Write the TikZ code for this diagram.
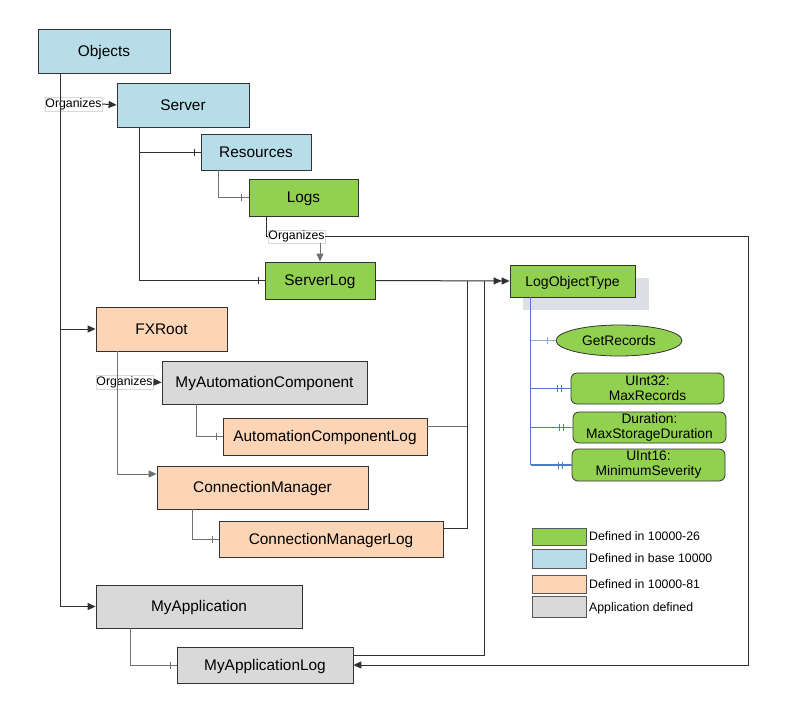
\documentclass[tikz,border=0pt]{standalone}
\usepackage{fontspec}
\setmainfont{Liberation Sans}
\usetikzlibrary{arrows.meta,decorations.markings,shapes.geometric}

\definecolor{cblue}{HTML}{B7DDE8}
\definecolor{cgreen}{HTML}{92D050}
\definecolor{cpeach}{HTML}{FBD5B5}
\definecolor{cgray}{HTML}{D9D9D9}
\definecolor{cline}{HTML}{303030}
\definecolor{cgline}{HTML}{707070}
\definecolor{cblueline}{HTML}{4F7CC4}
\definecolor{clightblue}{HTML}{94AACB}
\definecolor{cshadow}{HTML}{DCDFE6}

\def\tkc{cline}
\begin{document}
\begin{tikzpicture}[x=1pt,y=-1pt,
  box/.style={draw=black!80, line width=0.8pt, inner sep=0pt, text height=11pt, text depth=0.5pt,
     font=\fontsize{15.4}{17}\selectfont},
  child/.style={draw=black!80, line width=0.8pt, inner sep=0pt, fill=cgreen, rounded corners=6pt,
     align=center, font=\fontsize{13.8}{15}\selectfont},
  lbl/.style={draw=black!15, fill=white, inner sep=0.5pt, text height=9pt, text depth=2.5pt,
     font=\fontsize{12.3}{13}\selectfont},
  legbox/.style={draw=black!65, line width=0.8pt, minimum width=54pt},
  legtxt/.style={anchor=west, inner sep=0pt, font=\fontsize{12.3}{13}\selectfont},
  tc/.code={\def\tkc{#1}},
  conn/.style={draw=cline, line width=1pt, tc=cline},
  gconn/.style={draw=cgline, line width=1pt, tc=cgline},
  arr/.style={-{Triangle[length=8pt,width=7pt]}},
  dblarr/.style={-{Triangle[length=8pt,width=7pt]Triangle[length=8pt,width=7pt]}},
  tick/.style={postaction={decorate,decoration={markings,
     mark=at position -#1 with {\draw[draw=\tkc, line width=0.9pt] (0pt,-3.5pt)--(0pt,3.5pt);}}}},
  tick/.default=6pt,
  dtick/.style={postaction={decorate,decoration={markings,
     mark=at position -9pt with {\draw[draw=\tkc, line width=0.9pt] (0pt,-3.5pt)--(0pt,3.5pt);},
     mark=at position -13pt with {\draw[draw=\tkc, line width=0.9pt] (0pt,-3.5pt)--(0pt,3.5pt);}}}},
]
\useasboundingbox[fill=white] (0,0) rectangle (793,713);

% ---------- nodes ----------
\node[box, fill=cblue, minimum width=132pt, minimum height=44pt] (objects) at (104,51) {Objects};
\node[box, fill=cblue, minimum width=132pt, minimum height=44pt] (server) at (183,105) {Server};
\node[box, fill=cblue, minimum width=110pt, minimum height=36pt] (resources) at (256,152) {Resources};
\node[box, fill=cgreen, minimum width=109pt, minimum height=37pt] (logs) at (303.5,197.5) {Logs};
\node[box, fill=cgreen, minimum width=110pt, minimum height=37pt] (serverlog) at (320,280.5) {ServerLog};

\fill[cshadow] (523,278) rectangle (649,310);
\node[box, fill=cgreen, minimum width=125pt, minimum height=32pt,
      font=\fontsize{14}{16}\selectfont] (lot) at (572.5,281) {LogObjectType};

\node[box, fill=cpeach, minimum width=131pt, minimum height=44pt] (fxroot) at (161.5,329) {FXRoot};
\node[box, fill=cgray, minimum width=205pt, minimum height=43pt] (mac) at (264.5,382.5) {MyAutomationComponent};
\node[box, fill=cpeach, minimum width=204pt, minimum height=37pt] (aclog) at (325,436.5) {AutomationComponentLog};
\node[box, fill=cpeach, minimum width=211pt, minimum height=43pt] (cm) at (262.5,487.5) {ConnectionManager};
\node[box, fill=cpeach, minimum width=224pt, minimum height=36pt] (cmlog) at (331,539) {ConnectionManagerLog};
\node[box, fill=cgray, minimum width=206pt, minimum height=43pt] (myapp) at (199,606.5) {MyApplication};
\node[box, fill=cgray, minimum width=176pt, minimum height=36pt] (myapplog) at (265,665) {MyApplicationLog};

\node[ellipse, draw=black!80, line width=0.8pt, fill=cgreen, inner sep=0pt, minimum width=126pt,
      minimum height=31pt, text height=10pt, text depth=0.5pt,
      font=\fontsize{13.8}{15}\selectfont] (getrec) at (619,340.5) {GetRecords};
\node[child, minimum width=153pt, minimum height=31pt] (maxrec) at (647.5,388.5) {UInt32:\\MaxRecords};
\node[child, minimum width=153pt, minimum height=31pt] (maxdur) at (649.5,427.5) {Duration:\\MaxStorageDuration};
\node[child, minimum width=153pt, minimum height=32pt] (minsev) at (648.5,465) {UInt16:\\MinimumSeverity};

% labels
\node[lbl, minimum width=55pt, minimum height=14pt] (orgA) at (73.5,104) {Organizes};
\node[lbl, minimum width=57pt, minimum height=13pt] (orgB) at (296.5,236.5) {Organizes};
\node[lbl, minimum width=55pt, minimum height=14pt] (orgC) at (124.5,382) {Organizes};

% ---------- bus coordinates ----------
\coordinate (objbus) at ([xshift=23pt]objects.south west);
\coordinate (srvbus) at ([xshift=23pt]server.south west);
\coordinate (resbus) at ([xshift=18pt]resources.south west);
\coordinate (logbus) at ([xshift=18pt]logs.south west);
\coordinate (fxbus) at ([xshift=22pt]fxroot.south west);
\coordinate (macbus) at ([xshift=35pt]mac.south west);
\coordinate (cmbus) at ([xshift=36pt]cm.south west);
\coordinate (appbus) at ([xshift=35pt]myapp.south west);
\coordinate (lotbus) at ([xshift=21pt]lot.south west);
\coordinate (bus1) at (467,281);
\coordinate (bus2) at (484,281);
\coordinate (rt) at (748,236.5);

% ---------- connectors ----------
\draw[conn, arr] (orgA.east) -- (server.west);
\draw[conn, arr] (objbus) |- (myapp.west);
\draw[conn, arr] (objbus |- fxroot.west) -- (fxroot.west);

\draw[conn, tick] (srvbus) |- (resources.west);
\draw[conn, tick] (srvbus) |- (serverlog.west);
\draw[gconn, tick=7pt] (resbus) |- (logs.west);

\draw[conn] (logbus) |- (orgB.west);
\draw[gconn, arr] (orgB.south -| serverlog.north) -- (serverlog.north);
\draw[conn, arr] (orgB.east) -- (rt) |- (myapplog.east);

\draw[gconn, arr] (fxbus) |- ([yshift=13.5pt]cm.west);
\draw[conn, arr] (orgC.east) -- (mac.west);
\draw[gconn, tick] (macbus) |- (aclog.west);
\draw[gconn, tick] (cmbus) |- (cmlog.west);
\draw[gconn, tick] (appbus) |- (myapplog.west);

\draw[gconn] ([yshift=10.5pt]aclog.east) -| (bus1);
\draw[conn] ([yshift=11pt]cmlog.east) -| (bus1);
\draw[conn] ([yshift=10pt]myapplog.east) -| (bus2);
\draw[conn, dblarr] (serverlog.east) -- (lot.west);

% LogObjectType members
\draw[draw=cblueline, line width=1.2pt] (lotbus) -- (lotbus |- minsev.west);
\draw[draw=clightblue, line width=1.2pt, tc=clightblue, tick=8pt] (lotbus |- getrec.west) -- (getrec.west);
\draw[draw=cblueline, line width=1.2pt, tc=cblueline, dtick] (lotbus |- maxrec.west) -- (maxrec.west);
\draw[draw=cblueline, line width=1.2pt, tc=cblueline, dtick] (lotbus |- maxdur.west) -- (maxdur.west);
\draw[draw=cblueline, line width=1.2pt, tc=cblueline, dtick] (lotbus |- minsev.west) -- (minsev.west);

% ---------- legend ----------
\node[legbox, fill=cgreen, minimum height=17pt] (lg1) at (559,537) {};
\node[legbox, fill=cblue, minimum height=19pt] (lg2) at (559,558.5) {};
\node[legbox, fill=cpeach, minimum height=18pt] (lg3) at (559,584) {};
\node[legbox, fill=cgray, minimum height=21pt] (lg4) at (559,606.5) {};
\node[legtxt] (lt1) at (589,536) {Defined in 10000-26};
\node[legtxt] (lt2) at (589,558) {Defined in base 10000};
\node[legtxt] (lt3) at (589,584) {Defined in 10000-81};
\node[legtxt] (lt4) at (589,608) {Application defined};
\end{tikzpicture}
\end{document}
